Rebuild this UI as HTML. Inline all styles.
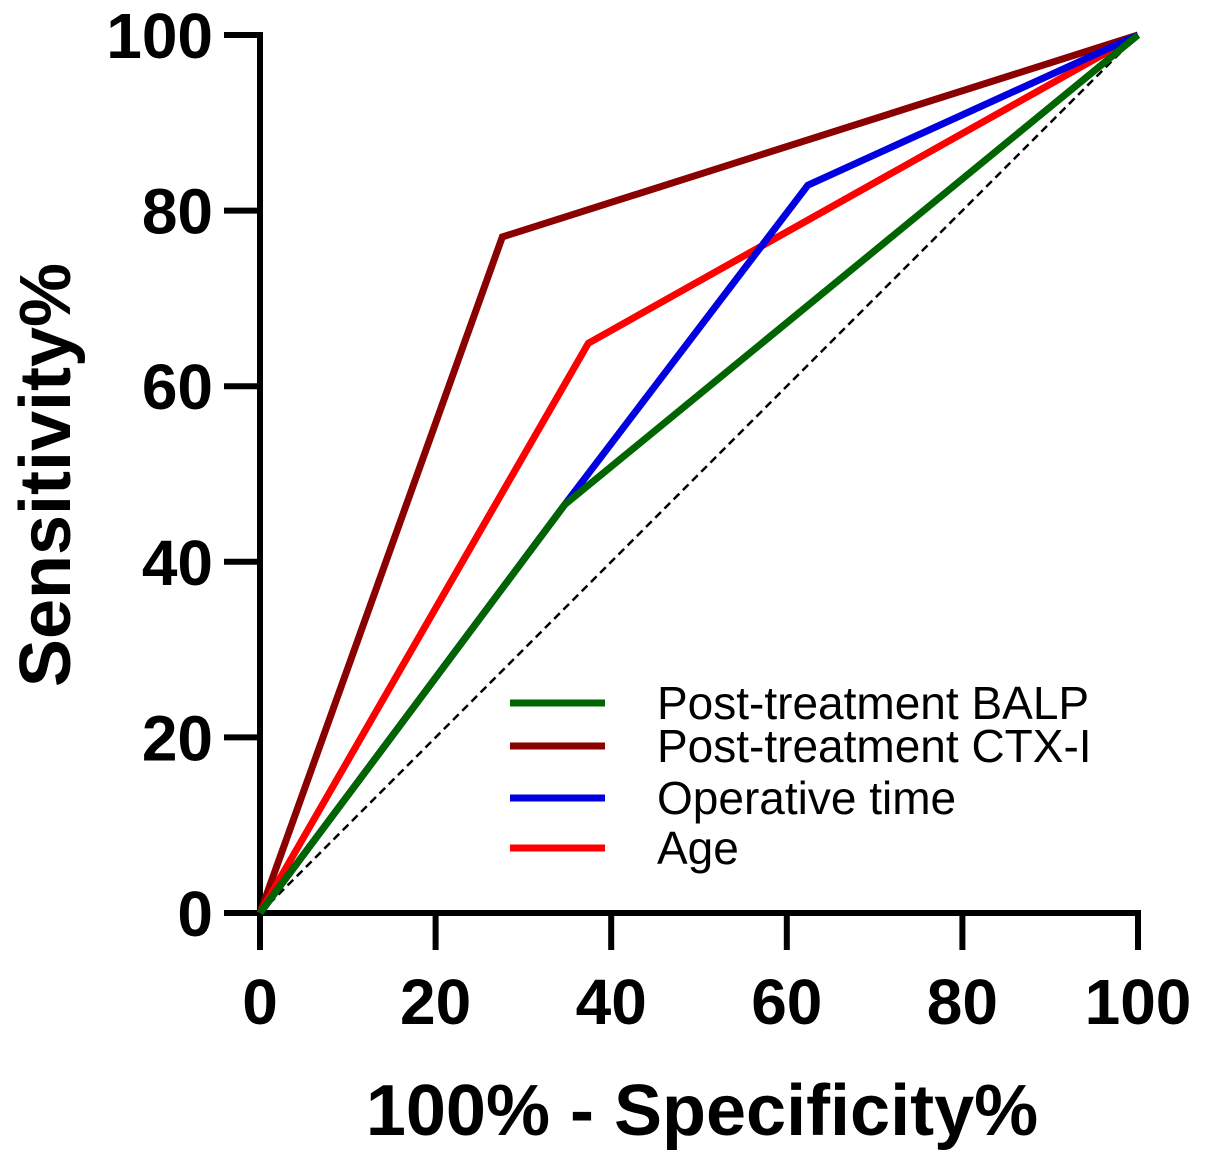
<!DOCTYPE html>
<html><head><meta charset="utf-8"><style>
html,body{margin:0;padding:0;background:#fff;}
svg{display:block;font-family:"Liberation Sans",Arial,sans-serif;}
</style></head><body>
<svg id="chart" width="1205" height="1162" viewBox="0 0 1205 1162">
<g id="axes"></g>
<g id="series"></g>
<g id="legend"></g>
<text x="702" y="1135" text-anchor="middle" font-size="72" font-weight="bold">100% - Specificity%</text>
<text transform="translate(70,475) rotate(-90)" text-anchor="middle" font-size="72" font-weight="bold">Sensitivity%</text>
</svg>
<script>
const xTicks=[0,20,40,60,80,100];
const yTicks=[0,20,40,60,80,100];
const seriesNames=["Post-treatment BALP","Post-treatment CTX-I","Operative time","Age"];
const seriesColors=["#006400","#8b0000","#0000e0","#ff0000"];
const balpX=[0,34.7,100], balpY=[0,46.5,100];
const ctxX=[0,27.6,100], ctxY=[0,77,100];
const opX=[0,34.7,62.4,100], opY=[0,46.5,82.9,100];
const ageX=[0,37.4,100], ageY=[0,64.9,100];
const refX=[0,100], refY=[0,100];

const NS="http://www.w3.org/2000/svg";
const X0=260,X1=1138,Y0=913,Y1=35;
const sx=v=>X0+(X1-X0)*v/100;
const sy=v=>Y0-(Y0-Y1)*v/100;
function mk(tag,attrs,parent){const e=document.createElementNS(NS,tag);for(const k in attrs)e.setAttribute(k,attrs[k]);parent.appendChild(e);return e;}
const axes=document.getElementById('axes');
let a=mk('line',{x1:X0,y1:Y1-3,x2:X0,y2:Y0+3,stroke:'#000','stroke-width':6},axes);


a=mk('line',{x1:X0-3,y1:Y0,x2:X1+3,y2:Y0,stroke:'#000','stroke-width':6},axes);


yTicks.forEach(v=>{
 const t=mk('line',{x1:X0-36,y1:sy(v),x2:X0,y2:sy(v),stroke:'#000','stroke-width':6},axes);
 
 
 const l=mk('text',{x:X0-47,y:sy(v)+23,'text-anchor':'end','font-size':64,'font-weight':'bold'},axes);
 l.textContent=v;
 
 
});
xTicks.forEach(v=>{
 const t=mk('line',{x1:sx(v),y1:Y0,x2:sx(v),y2:Y0+37,stroke:'#000','stroke-width':6},axes);
 
 
 const l=mk('text',{x:sx(v),y:1024,'text-anchor':'middle','font-size':64,'font-weight':'bold'},axes);
 l.textContent=v;
 
 
});
const sg=document.getElementById('series');
function pts(xs,ys){return xs.map((x,i)=>sx(x)+','+sy(ys[i])).join(' ');}
const r=mk('polyline',{points:pts(refX,refY),fill:'none',stroke:'#000','stroke-width':2.5,'stroke-dasharray':'8,5'},sg);


const data=[[balpX,balpY],[ctxX,ctxY],[opX,opY],[ageX,ageY]];
const order=[1,3,2,0];
order.forEach(i=>{
 const p=mk('polyline',{points:pts(data[i][0],data[i][1]),fill:'none',stroke:seriesColors[i],'stroke-width':7,'stroke-linejoin':'miter'},sg);
 
 
});
const lg=document.getElementById('legend');
const ly=[703,746,798,848];
seriesNames.forEach((n,i)=>{
 const l=mk('line',{x1:510,y1:ly[i],x2:605,y2:ly[i],stroke:seriesColors[i],'stroke-width':7},lg);
 
 
 const t=mk('text',{x:657,y:ly[i]+16,'font-size':46},lg);
 t.textContent=n;
 
 
});
</script>
</body></html>
